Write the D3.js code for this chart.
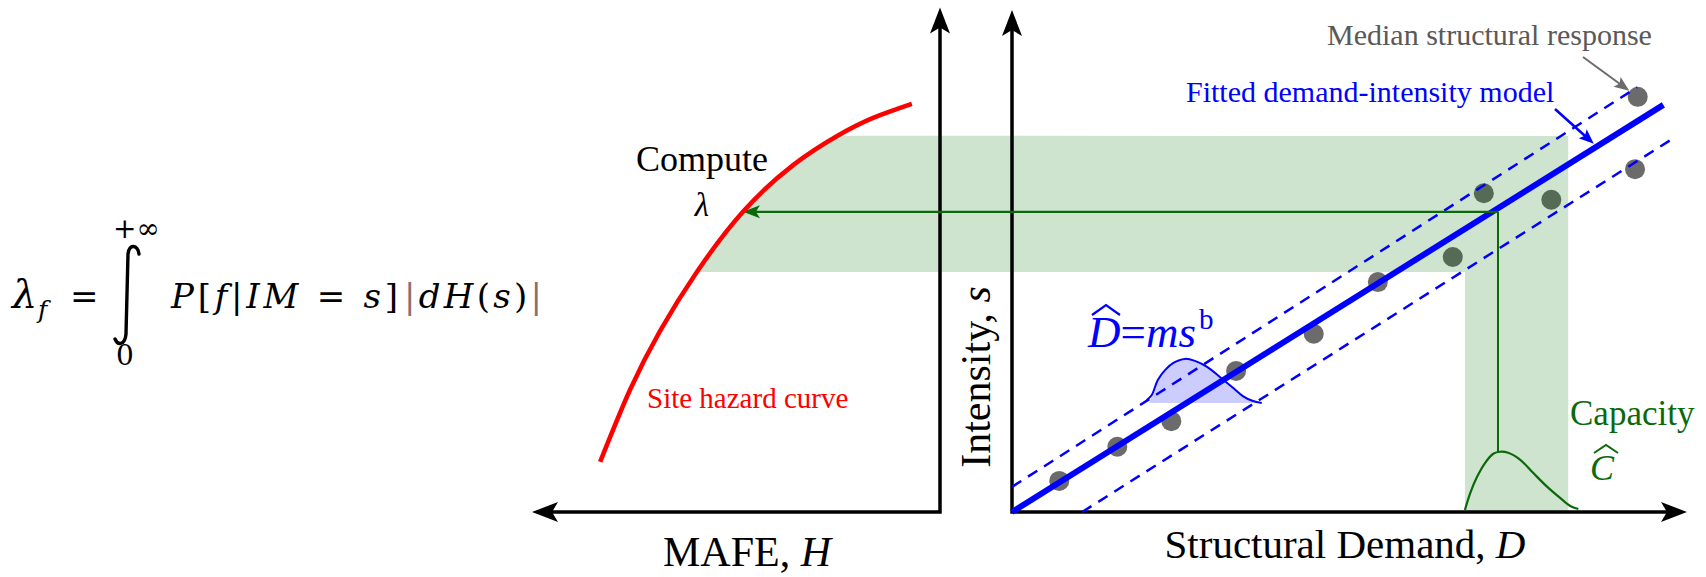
<!DOCTYPE html>
<html><head><meta charset="utf-8">
<script src="https://cdn.jsdelivr.net/npm/d3@7"></script>
<style>html,body{margin:0;padding:0;background:#fff;} svg{display:block;}</style>
</head><body>
<svg id="chart" width="1706" height="577"></svg>
<script>
// ---------------- data ----------------
// median structural responses: (demand D, intensity s)
const demandValues    = [7.0, 15.6, 23.6, 33.2, 44.7, 54.2, 65.3, 69.9, 79.9, 92.3, 92.7];
const intensityValues = [6.2, 13.0, 18.1, 28.1, 35.5, 45.8, 50.8, 63.5, 62.2, 68.3, 82.7];
// fitted demand-intensity model and its dispersion bounds
const fitDemand = [0, 96.5],    fitIntensity = [0, 81.1];
const upperDemand = [0, 92.6],  upperIntensity = [5.0, 84.6];
const lowerDemand = [10.4, 97.8], lowerIntensity = [0, 74.3];
// site hazard curve (MAFE H, intensity s)
const hazardMAFE      = [83.3, 76.0, 68.6, 59.6, 48.3, 36.0, 25.2, 16.4, 6.9];
const hazardIntensity = [10.0, 24.3, 36.1, 47.8, 59.8, 69.1, 74.9, 78.5, 81.3];
// demand distribution drawn on the fitted model
const demandPdfD = [19.96, 20.7, 21.6, 22.7, 23.9, 25.6, 27.1, 28.9, 30.8, 32.6, 34.2, 35.7, 37.0];
const demandPdfS = [22.3, 23.3, 26.3, 28.3, 29.7, 30.5, 30.1, 28.9, 26.9, 24.9, 23.1, 22.1, 21.7];
const demandPdfBase = 21.7;
// capacity distribution
const capacityPdfD = [67.1, 67.9, 68.9, 70.1, 71.3, 72.3, 73.5, 75.3, 77.2, 79.3, 81.2, 82.7, 83.9];
const capacityPdfS = [0.4, 3.8, 7.0, 9.8, 11.6, 12.0, 11.8, 10.4, 7.8, 5.0, 2.8, 1.2, 0.6];
// shaded band and the compute path
const bandIntensity = [47.8, 74.9];
const bandDemand = [67.1, 82.4];
const computeIntensity = 59.8;
const capacityMedian = 72.0;
const capacityPeak = 12.0;
const computeMAFE = 48.3;

// ---------------- setup ----------------
const svg = d3.select('#chart');
const serif = "'Liberation Serif','Times New Roman',serif";
const mathFont = "'DejaVu Serif',serif";
svg.append('rect').attr('width',1706).attr('height',577).attr('fill','#fff');

const xD = d3.scaleLinear().domain([0,100]).range([1012,1687]);
const yS = d3.scaleLinear().domain([0,100]).range([512,10]);
const xH = d3.scaleLinear().domain([0,100]).range([940,532]);

const BLUE = '#0000ff', GREEN = '#0a6a0a', RED = '#ff0000';

function arrowHead(g, tipX, tipY, fromX, fromY, len, halfW, notch, color){
  const ang = Math.atan2(tipY-fromY, tipX-fromX);
  const ux=Math.cos(ang), uy=Math.sin(ang), px=-uy, py=ux;
  const bx=tipX-ux*len, by=tipY-uy*len;
  const nx=tipX-ux*(len-notch), ny=tipY-uy*(len-notch);
  g.append('path')
    .attr('d',`M${tipX},${tipY}L${bx+px*halfW},${by+py*halfW}L${nx},${ny}L${bx-px*halfW},${by-py*halfW}Z`)
    .attr('fill',color);
  return [nx,ny];
}
function arrow(g,x1,y1,x2,y2,o){
  const ang=Math.atan2(y2-y1,x2-x1);
  const ex=x2-Math.cos(ang)*(o.len-o.notch-1), ey=y2-Math.sin(ang)*(o.len-o.notch-1);
  g.append('line').attr('x1',x1).attr('y1',y1).attr('x2',ex).attr('y2',ey)
    .attr('stroke',o.color).attr('stroke-width',o.width);
  arrowHead(g,x2,y2,x1,y1,o.len,o.halfW,o.notch,o.color);
}

const gPts = svg.append('g');
const gBand = svg.append('g');
const gAx = svg.append('g');
const gLines = svg.append('g');
const gTxt = svg.append('g');

// points
gPts.selectAll('circle').data(demandValues).join('circle')
  .attr('cx',(d)=>xD(d)).attr('cy',(d,i)=>yS(intensityValues[i])).attr('r',10)
  .attr('fill','#6b6b6b');

// hazard curve
const hazardLine = d3.line().x((d,i)=>xH(hazardMAFE[i])).y((d,i)=>yS(hazardIntensity[i]))
  .curve(d3.curveNatural);
const hazardPath = gLines.append('path').attr('d',hazardLine(hazardMAFE))
  .attr('fill','none').attr('stroke',RED).attr('stroke-width',4.5);

// band polygon: right of hazard curve between band intensities, plus vertical strip
const node = hazardPath.node(), total = node.getTotalLength();
const yTop = yS(bandIntensity[1]), yBot = yS(bandIntensity[0]);
const curvePts = [];
for(let l=0;l<=total;l+=0.5){
  const p=node.getPointAtLength(l);
  if(p.y<=yBot+0.3 && p.y>=yTop-0.3) curvePts.push([p.x,p.y]);
}
const bandPoly = curvePts.concat([
  [xD(bandDemand[1]), yTop],
  [xD(bandDemand[1]), yS(0)],
  [xD(bandDemand[0]), yS(0)],
  [xD(bandDemand[0]), yBot]
]);
gBand.append('path').attr('d','M'+bandPoly.map(p=>p.join(',')).join('L')+'Z')
  .attr('fill','rgb(0,110,0)').attr('fill-opacity',0.19);

// demand pdf fill
const pdfPts = demandPdfD.map((d,i)=>[xD(d), yS(demandPdfS[i])]);
const pdfLine = d3.line().curve(d3.curveCatmullRom.alpha(0.5));
const fillPts = [[xD(demandPdfD[0])+3, yS(demandPdfBase)]].concat(pdfPts.slice(1), [[xD(demandPdfD[demandPdfD.length-1]), yS(demandPdfBase)]]);
gBand.append('path').attr('d', pdfLine(fillPts)+'Z').attr('fill','rgb(0,0,255)').attr('fill-opacity',0.2);

// axes
const axOpt = {len:26, halfW:10, notch:6};
gAx.append('path')
  .attr('d',`M${xH(100)+18},${yS(0)}L${xH(0)},${yS(0)}L${xH(0)},${yS(100.5)+18}`)
  .attr('fill','none').attr('stroke','#000').attr('stroke-width',3.5).attr('stroke-linejoin','miter');
arrowHead(gAx, xH(100), yS(0), xH(0), yS(0), axOpt.len, axOpt.halfW, axOpt.notch, '#000');
arrowHead(gAx, xH(0), yS(100.5), xH(0), yS(0), axOpt.len, axOpt.halfW, axOpt.notch, '#000');
gAx.append('path')
  .attr('d',`M${xD(0)},${yS(100)+18}L${xD(0)},${yS(0)}L${xD(100)-18},${yS(0)}`)
  .attr('fill','none').attr('stroke','#000').attr('stroke-width',3.5).attr('stroke-linejoin','miter');
arrowHead(gAx, xD(100), yS(0), xD(0), yS(0), axOpt.len, axOpt.halfW, axOpt.notch, '#000');
arrowHead(gAx, xD(0), yS(100), xD(0), yS(0), axOpt.len, axOpt.halfW, axOpt.notch, '#000');

// fitted model lines
const seg = (xs,ys)=>d3.line()(xs.map((x,i)=>[xD(x),yS(ys[i])]));
gLines.append('path').attr('d',seg(upperDemand,upperIntensity)).attr('stroke',BLUE).attr('stroke-width',2.5).attr('stroke-dasharray','11,8').attr('fill','none');
gLines.append('path').attr('d',seg(lowerDemand,lowerIntensity)).attr('stroke',BLUE).attr('stroke-width',2.5).attr('stroke-dasharray','11,8').attr('fill','none');
gLines.append('path').attr('d',seg(fitDemand,fitIntensity)).attr('stroke',BLUE).attr('stroke-width',6).attr('fill','none');

// demand pdf stroke
gLines.append('path').attr('d',pdfLine(pdfPts)).attr('fill','none').attr('stroke',BLUE).attr('stroke-width',2);

// capacity pdf
const capPts = capacityPdfD.map((d,i)=>[xD(d), yS(capacityPdfS[i])]);
gLines.append('path').attr('d',pdfLine(capPts)).attr('fill','none').attr('stroke',GREEN).attr('stroke-width',2.2);
gLines.append('line').attr('x1',xD(capacityMedian)).attr('x2',xD(capacityMedian))
  .attr('y1',yS(computeIntensity)).attr('y2',yS(capacityPeak)).attr('stroke',GREEN).attr('stroke-width',2);
arrow(gLines, xD(capacityMedian), yS(computeIntensity), xH(computeMAFE), yS(computeIntensity),
  {color:GREEN, width:2.2, len:17, halfW:6.5, notch:4});
hazardPath.raise();

// annotation arrows
{
  const cx=xD(demandValues[10]), cy=yS(intensityValues[10]);
  const sx=1583, sy=57;
  const dx=cx-sx, dy=cy-sy, L=Math.hypot(dx,dy);
  arrow(gTxt, sx, sy, cx-dx/L*10.5, cy-dy/L*10.5, {color:'#6b6b6b', width:2, len:15, halfW:6, notch:3});
  const tx=xD(86.2), ty=yS(86.2*fitIntensity[1]/fitDemand[1])-4.5;
  arrow(gTxt, 1555, 109, tx, ty, {color:BLUE, width:2.5, len:15, halfW:6, notch:3});
}

// ---------------- texts ----------------
function txt(x,y,s,size,opt={}){
  const t=gTxt.append('text').attr('x',x).attr('y',y).attr('font-family',opt.font||serif)
    .attr('font-size',size).attr('fill',opt.color||'#000')
    .attr('text-anchor',opt.anchor||'start');
  if(opt.italic) t.attr('font-style','italic');
  if(typeof s==='string') t.text(s);
  else s.forEach(p=>{const ts=t.append('tspan').text(p[0]); if(p[1]) ts.attr('font-style','italic'); if(p[2]) ts.attr('fill',p[2]);});
  if(opt.transform) t.attr('transform',opt.transform);
  if(opt.len) t.attr('textLength',opt.len).attr('lengthAdjust','spacing');
  return t;
}
txt(1327,45,'Median structural response',30,{color:'#595959'});
txt(1186,102,'Fitted demand-intensity model',30,{color:BLUE});
txt(702,171,'Compute',36,{anchor:'middle'});
txt(702,216,'λ',33,{anchor:'middle',italic:true});
txt(647,408,'Site hazard curve',29,{color:RED});
txt(0,0,[['Intensity, '],['s',1]],42,{anchor:'middle',transform:'translate(990,377) rotate(-90)'});
txt(747,566,[['MAFE, '],['H',1]],42,{anchor:'middle'});
txt(1345,558,[['Structural Demand, '],['D',1]],41,{anchor:'middle'});
txt(1570,425,'Capacity',35,{color:GREEN});
txt(1590,480,'C',36,{color:GREEN,italic:true});
gTxt.append('path').attr('d','M1594,453L1606,445L1618,453').attr('fill','none').attr('stroke',GREEN).attr('stroke-width',2);

// D-hat = m s^b
const dm = txt(1088,347,[['D',1],['='],['ms',1]],45,{color:BLUE});
const dmW = dm.node().getComputedTextLength();
txt(1088+dmW+3,329,'b',29,{color:BLUE});
gTxt.append('path').attr('d','M1092,315L1106,305L1120,315').attr('fill','none').attr('stroke',BLUE).attr('stroke-width',2.2);

// formula on the left
const BROWN = '#8c6e6e';
txt(12,308,'λ',40,{italic:true,font:mathFont});
txt(38,318,'f',25,{italic:true,font:mathFont});
txt(70,308,'=',34,{font:mathFont});
txt(113,238,'+∞',28,{font:mathFont});
txt(116,365,'0',28,{font:mathFont});
txt(171,308,[['P',1],['['],['f',1],['|'],['IM',1],[' = '],['s',1],[']']],34,{font:mathFont,len:227});
txt(404,308,[['|',0,BROWN],['d',1],['H',1],['('],['s',1],[')'],['|',0,BROWN]],34,{font:mathFont,len:138});
gTxt.append('path').attr('d','M139,254C138,245 129,243 128,254L126,334C125,345 118,346 115,339')
  .attr('fill','none').attr('stroke','#000').attr('stroke-width',3.4).attr('stroke-linecap','round');
</script>
</body></html>
